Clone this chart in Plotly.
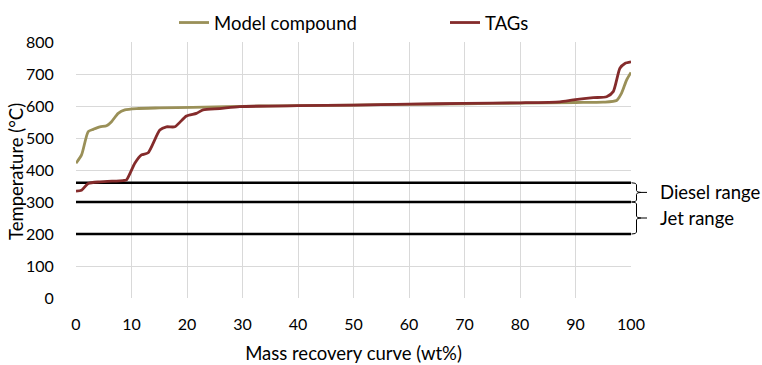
import plotly.graph_objects as go

# Data
model_x = [0, 1.0, 2.2, 3.1, 4.3, 5.5, 6.4, 7.6, 8.8, 10.9, 15, 21, 33, 40, 50, 60, 70, 80, 90, 95, 97.4, 98.3, 99.2, 100]
model_y = [421, 447, 520, 527, 535, 538, 551, 577, 588, 592, 594, 596, 600, 601, 603, 605, 607, 609, 611, 612, 617, 640, 681, 705]

tags_x = [0, 1.0, 2.2, 4.3, 8.5, 9.1, 10.6, 11.8, 13.0, 15.1, 16.3, 17.8, 19.9, 21.7, 22.9, 25.9, 29.5, 40, 50, 60, 70, 80, 87.2, 89.6, 93.2, 95.6, 96.8, 98.0, 98.9, 100]
tags_y = [334, 337, 358, 363, 367, 369, 421, 447, 454, 525, 535, 535, 569, 577, 588, 592, 598, 601, 603, 606, 608, 610, 613, 619, 626, 629, 645, 718, 733, 738]

range_levels = [360, 300, 200]
range_names = ["Diesel range", "Jet range"]
x_ticks = [0, 10, 20, 30, 40, 50, 60, 70, 80, 90, 100]
y_ticks = [0, 100, 200, 300, 400, 500, 600, 700, 800]
y_title = "Temperature (°C)"
x_title = "Mass recovery curve (wt%)"

OLIVE = "#9A9058"
DARKRED = "#842B2B"
FONT = "Lato, 'Open Sans', sans-serif"
TXT = 18.5

fig = go.Figure()
for lvl in range_levels:
    fig.add_trace(go.Scatter(x=[0, 100], y=[lvl, lvl], mode="lines",
                             line=dict(color="black", width=2.5), showlegend=False,
                             hoverinfo="skip"))
fig.add_trace(go.Scatter(x=model_x, y=model_y, mode="lines", name="Model compound",
                         line=dict(color=OLIVE, width=2.8, shape="spline", smoothing=0.6)))
fig.add_trace(go.Scatter(x=tags_x, y=tags_y, mode="lines", name="TAGs",
                         line=dict(color=DARKRED, width=2.8, shape="spline", smoothing=0.6)))

plot_w = 762 - 76 - 131
plot_h = 365 - 42 - 67
def px(p):
    return 1 + p / plot_w

shapes = []
pairs = [(range_levels[0], range_levels[1]), (range_levels[1], range_levels[2])]
for (top, bot), name in zip(pairs, range_names):
    mid = (top + bot) / 2
    d = 6
    x0, x1, x2, x3 = px(0.5), px(5.5), px(10), px(16)
    path = (f"M {x0},{top} Q {x1},{top} {x1},{top-d} L {x1},{mid+d} "
            f"Q {x1},{mid} {x2},{mid} Q {x1},{mid} {x1},{mid-d} "
            f"L {x1},{bot+d} Q {x1},{bot} {x0},{bot}")
    shapes.append(dict(type="path", path=path, xref="paper", yref="y",
                       line=dict(color="black", width=1)))
    shapes.append(dict(type="line", xref="paper", yref="y", x0=x2, x1=x3, y0=mid, y1=mid,
                       line=dict(color="black", width=1)))
    fig.add_annotation(x=px(27), y=mid, xref="paper", yref="y", text=name,
                       showarrow=False, xanchor="left", yanchor="middle",
                       font=dict(family=FONT, size=TXT, color="black"))

# y-axis title placed as rotated annotation
fig.add_annotation(x=(16 - 76) / plot_w, y=(298 - 172) / plot_h, xref="paper", yref="paper",
                   text=y_title, textangle=-90, showarrow=False,
                   xanchor="center", yanchor="middle",
                   font=dict(family=FONT, size=TXT, color="black"))

fig.update_layout(
    width=762, height=365,
    margin=dict(l=76, r=131, t=42, b=67),
    paper_bgcolor="white", plot_bgcolor="white",
    font=dict(family=FONT, size=16, color="black"),
    shapes=shapes,
    legend=dict(orientation="h", x=174 / 762, xref="container", xanchor="left",
                y=1 - 23 / 365, yref="container", yanchor="middle",
                entrywidth=226, entrywidthmode="pixels",
                font=dict(family=FONT, size=TXT), bgcolor="rgba(0,0,0,0)"),
    xaxis=dict(range=[0, 100], tickvals=x_ticks, showgrid=True, gridcolor="#D9D9D9",
               gridwidth=1, zeroline=False, showline=False, ticks="", automargin=False,
               ticklabelstandoff=15,
               title=dict(text=x_title, font=dict(size=TXT), standoff=15)),
    yaxis=dict(range=[0, 800], tickvals=y_ticks, showgrid=True, gridcolor="#D9D9D9",
               gridwidth=1, zeroline=False, showline=False, automargin=False,
               ticks="outside", ticklen=6, tickcolor="rgba(0,0,0,0)",
               ticklabelstandoff=12),
)

fig.write_html("out.html", config={"displayModeBar": False},
               post_script="document.body.style.margin='0';document.body.style.padding='0';")
